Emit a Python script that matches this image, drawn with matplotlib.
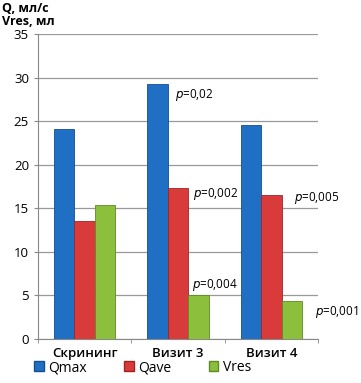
import numpy as np
import matplotlib
matplotlib.use('Agg')
import matplotlib.pyplot as plt
from matplotlib.patches import Patch

plt.rcParams['font.family'] = ['Open Sans', 'DejaVu Sans']

categories = ['Скрининг', 'Визит 3', 'Визит 4']
series_names = ['Qmax', 'Qave', 'Vres']
qmax = [24.1, 29.3, 24.6]
qave = [13.5, 17.3, 16.5]
vres = [15.4, 5.0, 4.4]
colors = ['#1f6fc4', '#d93a3a', '#8cbf3c']
edges = ['#144f90', '#9e2525', '#5f8a25']

# p-value labels: (text, x, y) in data units
p_labels = [
    ('=0,02', 0.97, 28.0),
    ('=0,002', 1.16, 16.6),
    ('=0,004', 1.15, 6.2),
    ('=0,005', 2.24, 16.2),
    ('=0,001', 2.47, 3.1),
]

fig = plt.figure(figsize=(3.61, 3.83), dpi=100)
ax = fig.add_axes([38 / 361, 1 - 339 / 383, 280 / 361, 305 / 383])

x = np.arange(len(categories))
w = 0.22
for i, (vals, c, ec) in enumerate(zip([qmax, qave, vres], colors, edges)):
    ax.bar(x + (i - 1) * w, vals, w, color=c, edgecolor=ec, linewidth=0.6,
           zorder=3)

ax.set_xlim(-0.5, 2.5)
ax.set_ylim(0, 35)
ax.set_yticks(range(0, 36, 5))
ax.set_xticks(x)
ax.set_xticklabels(categories, fontsize=9.5, fontweight='semibold')
ax.tick_params(axis='y', labelsize=9.5, length=3, color='#888888')
ax.tick_params(axis='x', length=0, pad=6)
ax.set_xticks([-0.5, 0.5, 1.5, 2.5], minor=True)
ax.tick_params(axis='x', which='minor', length=3, color='#888888')
ax.yaxis.grid(True, color='#999999', linewidth=0.9, zorder=0)
for s in ['top', 'right']:
    ax.spines[s].set_visible(False)
ax.spines['left'].set_color('#888888')
ax.spines['bottom'].set_color('#888888')

for txt, px, py in p_labels:
    ax.text(px, py, r'$p$' + txt, fontsize=8.5, ha='left', va='center',
            clip_on=False)

fig.text(0.005, 0.995, 'Q, мл/с\nVres, мл', fontsize=9, fontweight='bold',
         ha='left', va='top', linespacing=1.0)

handles = [Patch(facecolor=c, edgecolor=ec) for c, ec in zip(colors, edges)]
fig.legend(handles, series_names, loc='lower left', ncol=3, frameon=False,
           bbox_to_anchor=(0.06, -0.012), fontsize=10, handlelength=0.7,
           handleheight=0.7, handletextpad=0.3, columnspacing=2.7)

fig.savefig('out.png', dpi=100)
